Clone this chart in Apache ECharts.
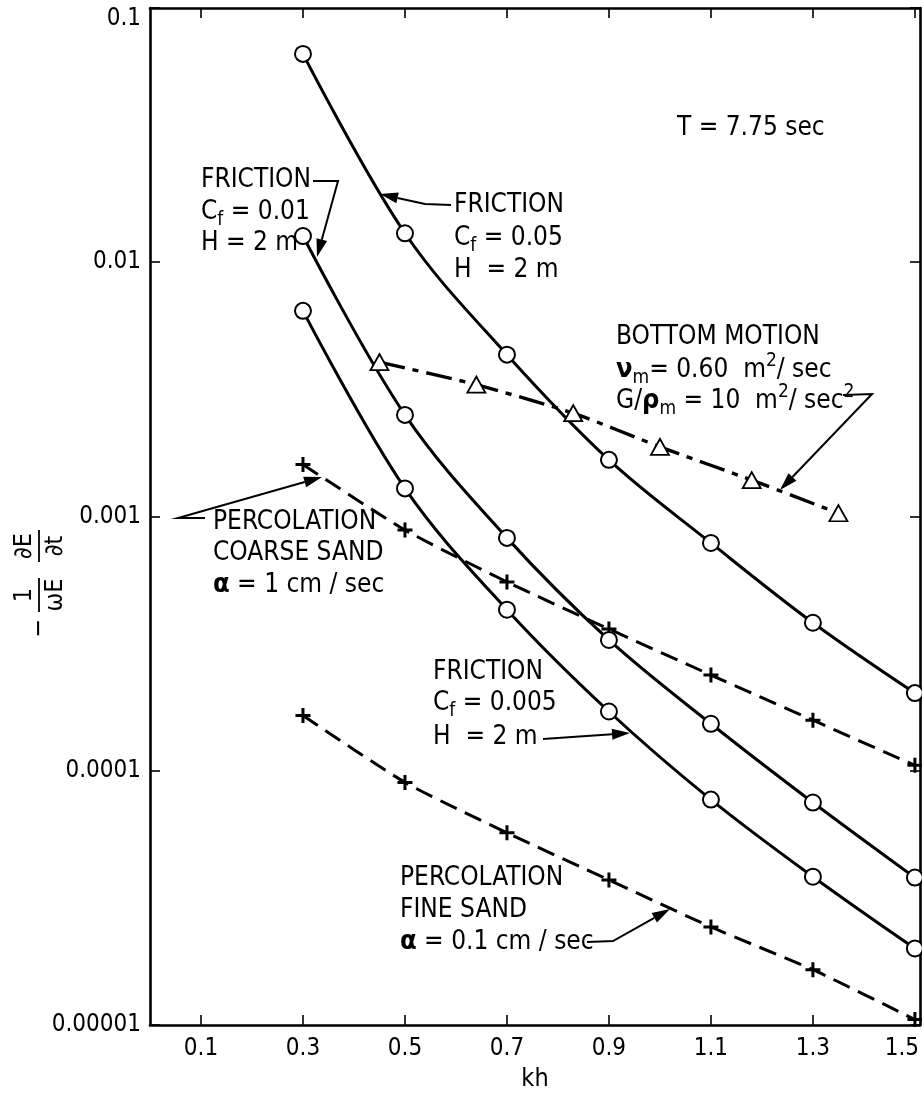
<!DOCTYPE html>
<html><head><meta charset="utf-8">
<script src="https://cdn.jsdelivr.net/npm/echarts@6/dist/echarts.min.js"></script>
<style>html,body{margin:0;padding:0;background:#fff;overflow:hidden}#c{width:922px;height:1094px}</style>
</head><body><div id="c"></div>
<script>
// ---- data ----
const khStd = [0.3, 0.5, 0.7, 0.9, 1.1, 1.3, 1.5];
const friction005 = [0.066, 0.0130, 0.00433, 0.00167, 0.000787, 0.000382, 0.000202];   // Cf = 0.05
const friction001 = [0.01268, 0.00251, 0.000824, 0.000327, 0.000153, 0.000075, 0.000038]; // Cf = 0.01
const friction0005 = [0.00644, 0.00129, 0.00043, 0.000171, 0.000077, 0.0000383, 0.00002]; // Cf = 0.005
const khBottom = [0.45, 0.64, 0.83, 1.0, 1.18, 1.35];
const bottomMotion = [0.00405, 0.0033, 0.00255, 0.00188, 0.00139, 0.00103];
const percCoarse = [0.0016, 0.000885, 0.000553, 0.000361, 0.000238, 0.000158, 0.000105];
const percFine = [0.000165, 0.00009, 0.000057, 0.0000372, 0.0000243, 0.0000165, 0.0000105];
const xTickValues = [0.1, 0.3, 0.5, 0.7, 0.9, 1.1, 1.3, 1.5];
const xTickLabels = ['0.1', '0.3', '0.5', '0.7', '0.9', '1.1', '1.3', '1.5'];
const yTickLabels = ['0.00001', '0.0001', '0.001', '0.01', '0.1'];

const FONT = "'DejaVu Sans Condensed','Liberation Sans Narrow','DejaVu Sans',sans-serif";
const pair = (xs, ys) => xs.map((x, i) => [x, ys[i]]);
const PLUS = 'path://M4,0 H6 V4 H10 V6 H6 V10 H4 V6 H0 V4 H4 Z';

const chart = echarts.init(document.getElementById('c'), null, {renderer: 'canvas', width: 922, height: 1094});

const frictionSeries = (name, data) => ({
  name, type: 'line', data: pair(khStd, data), smooth: 0.35,
  symbol: 'circle', symbolSize: 16, showAllSymbol: true,
  lineStyle: {color: '#000', width: 3},
  itemStyle: {color: '#fff', borderColor: '#000', borderWidth: 2},
  z: 3
});
const percSeries = (name, data) => ({
  name, type: 'line', data: pair(khStd, data), smooth: 0.2,
  symbol: PLUS, symbolSize: 15,
  lineStyle: {color: '#000', width: 3, type: [18, 9]},
  itemStyle: {color: '#000'},
  z: 2
});

// ---- annotation helpers (layout only) ----
const rich = {
  n: {fontFamily: FONT, fontSize: 26, lineHeight: 36, verticalAlign: 'middle', fill: '#000'},
  b: {fontFamily: FONT, fontSize: 27, fontWeight: 'bold', lineHeight: 36, verticalAlign: 'middle', fill: '#000'},
  sub: {fontFamily: FONT, fontSize: 19, lineHeight: 36, verticalAlign: 'bottom', fill: '#000'},
  sup: {fontFamily: FONT, fontSize: 19, lineHeight: 36, verticalAlign: 'top', fill: '#000'}
};
function txt(x, y, text) {
  return {type: 'text', x, y, z: 10, style: {text, rich, fill: '#000', align: 'left', verticalAlign: 'middle', font: '26px ' + FONT}};
}
function arrow(pts) {
  const n = pts.length;
  const [tx, ty] = pts[n - 1], [px, py] = pts[n - 2];
  const d = Math.hypot(tx - px, ty - py), ux = (tx - px) / d, uy = (ty - py) / d;
  const L = 18, W = 5.5;
  const bx = tx - ux * L, by = ty - uy * L;
  const line = pts.slice(0, n - 1).concat([[bx, by]]);
  return [
    {type: 'polyline', z: 10, shape: {points: line}, style: {stroke: '#000', lineWidth: 2, fill: null}},
    {type: 'polygon', z: 10, shape: {points: [[tx, ty], [bx - uy * W, by + ux * W], [bx + uy * W, by - ux * W]]}, style: {fill: '#000'}}
  ];
}

const nameFont = '25px ' + FONT;
const yName = {
  type: 'group', x: 39, y: 586, rotation: Math.PI / 2, z: 10,
  children: [
    {type: 'text', x: -42, y: 0, style: {text: '\u2212', font: nameFont, fill: '#000', align: 'center', verticalAlign: 'middle'}},
    {type: 'text', x: -9, y: -15, style: {text: '1', font: nameFont, fill: '#000', align: 'center', verticalAlign: 'middle'}},
    {type: 'line', shape: {x1: -26, y1: 0, x2: 8, y2: 0}, style: {stroke: '#000', lineWidth: 1.8}},
    {type: 'text', x: -9, y: 16, style: {text: '\u03C9E', font: nameFont, fill: '#000', align: 'center', verticalAlign: 'middle'}},
    {type: 'text', x: 40, y: -15, style: {text: '\u2202E', font: nameFont, fill: '#000', align: 'center', verticalAlign: 'middle'}},
    {type: 'line', shape: {x1: 24, y1: 0, x2: 56, y2: 0}, style: {stroke: '#000', lineWidth: 1.8}},
    {type: 'text', x: 40, y: 16, style: {text: '\u2202t', font: nameFont, fill: '#000', align: 'center', verticalAlign: 'middle'}}
  ]
};

const graphics = [
  yName,
  txt(677, 128, '{n|T = 7.75 sec}'),
  // Friction Cf = 0.01
  txt(201, 180, '{n|FRICTION}'),
  txt(201, 212, '{n|C}{sub|f}{n| = 0.01}'),
  txt(201, 243, '{n|H = 2 m}'),
  ...arrow([[313, 181], [338, 181], [317, 257]]),
  // Friction Cf = 0.05
  txt(454, 205, '{n|FRICTION}'),
  txt(454, 238, '{n|C}{sub|f}{n| = 0.05}'),
  txt(454, 270, '{n|H  = 2 m}'),
  ...arrow([[451, 205], [425, 204], [380, 194]]),
  // Bottom motion
  txt(616, 337, '{n|BOTTOM MOTION}'),
  txt(616, 370, '{b|\u03BD}{sub|m}{n|= 0.60  m}{sup|2}{n|/ sec}'),
  txt(616, 401, '{n|G/}{b|\u03C1}{sub|m}{n| = 10  m}{sup|2}{n|/ sec}{sup|2}'),
  ...arrow([[843, 395], [872, 394], [780, 490]]),
  // Coarse sand
  txt(213, 522, '{n|PERCOLATION}'),
  txt(213, 553, '{n|COARSE SAND}'),
  txt(213, 585, '{b|\u03B1}{n| = 1 cm / sec}'),
  ...arrow([[205, 518], [178, 518], [322, 477]]),
  // Friction Cf = 0.005
  txt(433, 672, '{n|FRICTION}'),
  txt(433, 703, '{n|C}{sub|f}{n| = 0.005}'),
  txt(433, 737, '{n|H  = 2 m}'),
  ...arrow([[543, 739], [630, 733]]),
  // Fine sand
  txt(400, 878, '{n|PERCOLATION}'),
  txt(400, 910, '{n|FINE SAND}'),
  txt(400, 942, '{b|\u03B1}{n| = 0.1 cm / sec}'),
  ...arrow([[587, 942], [613, 941], [670, 909]])
];

const axisLineStyle = {color: '#000', width: 2.6};
const option = {
  backgroundColor: '#fff',
  animation: false,
  textStyle: {fontFamily: FONT, color: '#000'},
  grid: {left: 150, right: 2, top: 8, bottom: 69, containLabel: false, outerBoundsMode: 'none'},
  xAxis: [{
    type: 'value', min: 0, max: 1.51, position: 'bottom',
    name: 'kh', nameLocation: 'middle', nameGap: 42,
    nameTextStyle: {fontFamily: FONT, fontSize: 25, color: '#000'},
    axisLine: {show: true, onZero: false, lineStyle: axisLineStyle},
    axisTick: {show: true, inside: true, length: 10, customValues: xTickValues, lineStyle: {color: '#000', width: 1.6}},
    axisLabel: {show: true, customValues: xTickValues, margin: 12, fontFamily: FONT, fontSize: 24, color: '#000',
      formatter: v => {
        const i = xTickValues.findIndex(t => Math.abs(t - v) < 1e-6);
        const s = xTickLabels[i] ?? '';
        return i === xTickValues.length - 1 ? '{r|' + s + '}' : s;
      },
      rich: {r: {fontFamily: FONT, fontSize: 24, color: '#000', padding: [0, 26, 0, 0]}}
    },
    splitLine: {show: false}
  }, {
    type: 'value', min: 0, max: 1.51, position: 'top',
    axisLine: {show: true, onZero: false, lineStyle: axisLineStyle},
    axisTick: {show: true, inside: true, length: 10, customValues: xTickValues, lineStyle: {color: '#000', width: 1.6}},
    axisLabel: {show: false}, splitLine: {show: false}
  }],
  yAxis: [{
    type: 'log', logBase: 10, min: 0.00001, max: 0.1, position: 'left',
    axisLine: {show: true, onZero: false, lineStyle: axisLineStyle},
    axisTick: {show: true, inside: true, length: 10, lineStyle: {color: '#000', width: 1.6}},
    axisLabel: {show: true, margin: 9, fontFamily: FONT, fontSize: 24, color: '#000',
      formatter: v => {
        const e = Math.round(Math.log10(v));
        const s = yTickLabels[e + 5] ?? '';
        return e === -1 ? '{top|' + s + '}' : s;
      },
      rich: {top: {fontFamily: FONT, fontSize: 24, color: '#000', padding: [22, 0, 0, 0]}}
    },
    splitLine: {show: false}
  }, {
    type: 'log', logBase: 10, min: 0.00001, max: 0.1, position: 'right',
    axisLine: {show: true, onZero: false, lineStyle: axisLineStyle},
    axisTick: {show: true, inside: true, length: 10, lineStyle: {color: '#000', width: 1.6}},
    axisLabel: {show: false}, splitLine: {show: false}
  }],
  series: [
    frictionSeries('Friction Cf=0.05', friction005),
    frictionSeries('Friction Cf=0.01', friction001),
    frictionSeries('Friction Cf=0.005', friction0005),
    {
      name: 'Bottom motion', type: 'line', data: pair(khBottom, bottomMotion), smooth: 0.2,
      symbol: 'triangle', symbolSize: [18, 16],
      lineStyle: {color: '#000', width: 3.4, type: [26, 8, 6, 8]},
      itemStyle: {color: '#fff', borderColor: '#000', borderWidth: 1.8},
      z: 3
    },
    percSeries('Percolation coarse sand', percCoarse),
    percSeries('Percolation fine sand', percFine)
  ],
  graphic: graphics
};
chart.setOption(option);
</script>
</body></html>
